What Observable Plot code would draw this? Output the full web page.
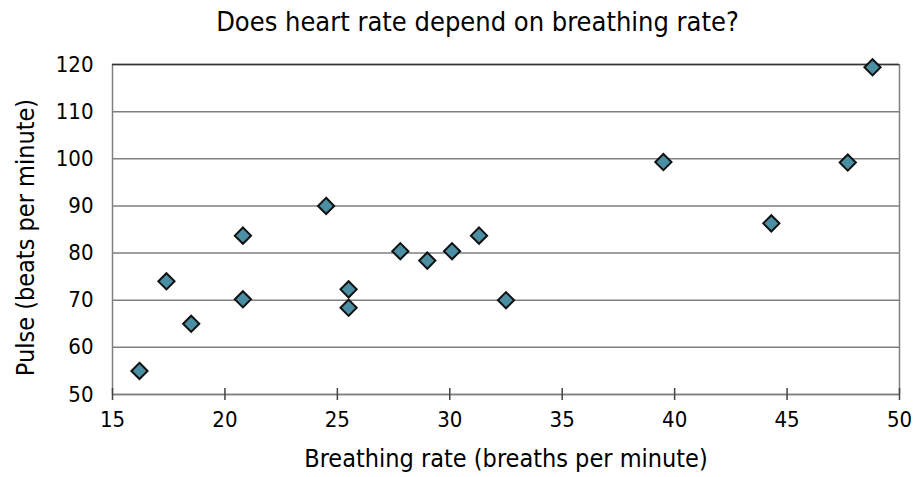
<!DOCTYPE html>
<html>
<head>
<meta charset="utf-8">
<script src="https://cdn.jsdelivr.net/npm/d3@7"></script>
<script src="https://cdn.jsdelivr.net/npm/@observablehq/plot@0.6"></script>
<style>
  body { margin: 0; background: #fff; }
  #title { width: 875px; padding-left: 40px; height: 44px; line-height: 44px; text-align: center;
           font-family: "DejaVu Sans Condensed", "DejaVu Sans", sans-serif; font-size: 27px; color: #000; }
  #chart svg { display: block; }
</style>
</head>
<body>
<div id="title">Does heart rate depend on breathing rate?</div>
<div id="chart"></div>
<script>
const breathing = [16.2, 17.4, 18.5, 20.8, 20.8, 24.5, 25.5, 25.5, 27.8, 29.0, 30.1, 31.3, 32.5, 39.5, 44.3, 47.7, 48.8];
const pulse     = [55.0, 74.0, 65.0, 70.2, 83.7, 90.0, 72.3, 68.4, 80.4, 78.4, 80.4, 83.7, 70.0, 99.3, 86.3, 99.2, 119.4];
const xTicks = [15, 20, 25, 30, 35, 40, 45, 50];
const yTicks = [50, 60, 70, 80, 90, 100, 110, 120];
const xTitle = "Breathing rate (breaths per minute)";
const yTitle = "Pulse (beats per minute)";

const data = breathing.map((b, i) => ({b, p: pulse[i]}));
const font = "'DejaVu Sans Condensed', 'DejaVu Sans', sans-serif";

const chart = Plot.plot({
  width: 915,
  height: 433,
  marginLeft: 112,
  marginRight: 16,
  marginTop: 20,
  marginBottom: 83,
  style: {fontFamily: font, fontSize: "22px", color: "#000", background: "#fff"},
  x: {domain: [15, 50]},
  y: {domain: [50, 120]},
  marks: [
    Plot.gridY(yTicks, {stroke: "#7f7f7f", strokeOpacity: 1, strokeWidth: 1.5}),
    Plot.ruleX([15, 50], {stroke: "#7f7f7f", strokeWidth: 1.5}),
    Plot.ruleY([120], {stroke: "#333", strokeWidth: 1.5}),
    Plot.ruleY([50], {stroke: "#7f7f7f", strokeWidth: 1.5}),
    Plot.axisX(xTicks, {tickSize: 12, dy: -6, tickPadding: 11, stroke: "#444", strokeWidth: 1.5, label: null, fill: "#000", fontSize: 22, tickFormat: d => String(d)}),
    Plot.axisY(yTicks, {tickSize: 0, tickPadding: 19, label: null, fill: "#000", fontSize: 22, tickFormat: d => String(d)}),
    Plot.text([xTitle], {frameAnchor: "bottom", lineAnchor: "top", dy: 55, fontSize: 25, fill: "#000"}),
    Plot.text([yTitle], {frameAnchor: "left", textAnchor: "middle", lineAnchor: "middle", rotate: -90, dx: -87, dy: 8, fontSize: 25, fill: "#000"}),
    Plot.dot(data, {x: "b", y: "p", symbol: "diamond2", r: 7.3, fill: "#4a8fa3", stroke: "#111", strokeWidth: 2})
  ]
});
document.getElementById("chart").appendChild(chart);
</script>
</body>
</html>
